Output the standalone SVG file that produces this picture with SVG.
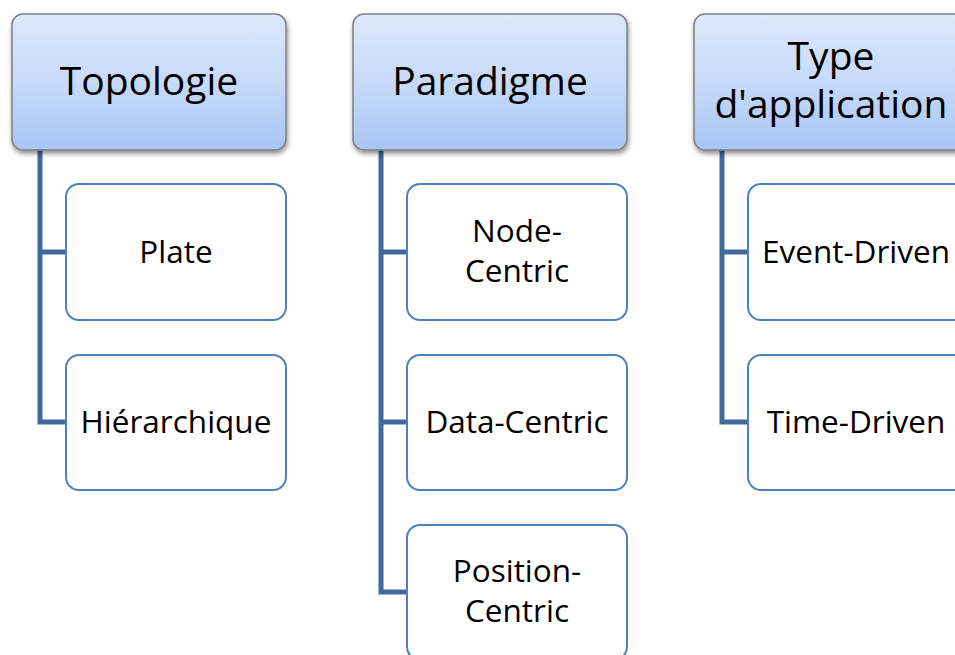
<svg xmlns="http://www.w3.org/2000/svg" width="955" height="655" viewBox="0 0 955 655">
<defs>
<linearGradient id="hg" x1="0" y1="0" x2="0" y2="1">
<stop offset="0" stop-color="#dde8fb"/>
<stop offset="0.5" stop-color="#c7daf9"/>
<stop offset="1" stop-color="#a7c5f5"/>
</linearGradient>
<filter id="sh" x="-10%" y="-10%" width="125%" height="130%">
<feGaussianBlur in="SourceAlpha" stdDeviation="2.5"/>
<feOffset dx="1" dy="3" result="b"/>
<feComponentTransfer><feFuncA type="linear" slope="0.45"/></feComponentTransfer>
<feMerge><feMergeNode/><feMergeNode in="SourceGraphic"/></feMerge>
</filter>
</defs>
<style>
.hdr{fill:url(#hg);stroke:#7f7f7f;stroke-width:1.5;filter:url(#sh)}
.ch{fill:#ffffff;stroke:#4f81bd;stroke-width:2}
.ht{font-family:"Open Sans","Liberation Sans",sans-serif;font-size:39px;fill:#000;text-anchor:middle}
.ct{font-family:"Open Sans","Liberation Sans",sans-serif;font-size:31.5px;fill:#000;text-anchor:middle}
.cn{fill:none;stroke:#41699c;stroke-width:5;stroke-linejoin:miter;stroke-linecap:butt}
</style>
<g id="connectors">
<polyline class="cn" points="40,150 40,422 66,422"/>
<line class="cn" x1="40" y1="252" x2="66" y2="252"/>
<polyline class="cn" points="381,150 381,592 407,592"/>
<line class="cn" x1="381" y1="252" x2="407" y2="252"/>
<line class="cn" x1="381" y1="422" x2="407" y2="422"/>
<polyline class="cn" points="722,150 722,422 748,422"/>
<line class="cn" x1="722" y1="252" x2="748" y2="252"/>
</g>
<g id="topologie">
<rect class="hdr" x="12" y="14" width="274" height="136" rx="11"/>
<text class="ht" x="149" y="95">Topologie</text>
</g>
<g id="paradigme">
<rect class="hdr" x="353" y="14" width="274" height="136" rx="11"/>
<text class="ht" x="490" y="95">Paradigme</text>
</g>
<g id="type-application">
<rect class="hdr" x="694" y="14" width="274" height="136" rx="11"/>
<text class="ht" x="831" y="70">Type</text>
<text class="ht" x="831" y="118">d'application</text>
</g>
<g id="plate">
<rect class="ch" x="66" y="184" width="220" height="136" rx="13"/>
<text class="ct" x="176" y="263">Plate</text>
</g>
<g id="hierarchique">
<rect class="ch" x="66" y="355" width="220" height="135" rx="13"/>
<text class="ct" x="176" y="433">Hiérarchique</text>
</g>
<g id="node-centric">
<rect class="ch" x="407" y="184" width="220" height="136" rx="13"/>
<text class="ct" x="517" y="242">Node-</text>
<text class="ct" x="517" y="282">Centric</text>
</g>
<g id="data-centric">
<rect class="ch" x="407" y="355" width="220" height="135" rx="13"/>
<text class="ct" x="517" y="433">Data-Centric</text>
</g>
<g id="position-centric">
<rect class="ch" x="407" y="525" width="220" height="135" rx="13"/>
<text class="ct" x="517" y="582">Position-</text>
<text class="ct" x="517" y="622">Centric</text>
</g>
<g id="event-driven">
<rect class="ch" x="748" y="184" width="220" height="136" rx="13"/>
<text class="ct" x="856" y="263">Event-Driven</text>
</g>
<g id="time-driven">
<rect class="ch" x="748" y="355" width="220" height="135" rx="13"/>
<text class="ct" x="856" y="433">Time-Driven</text>
</g>
</svg>
